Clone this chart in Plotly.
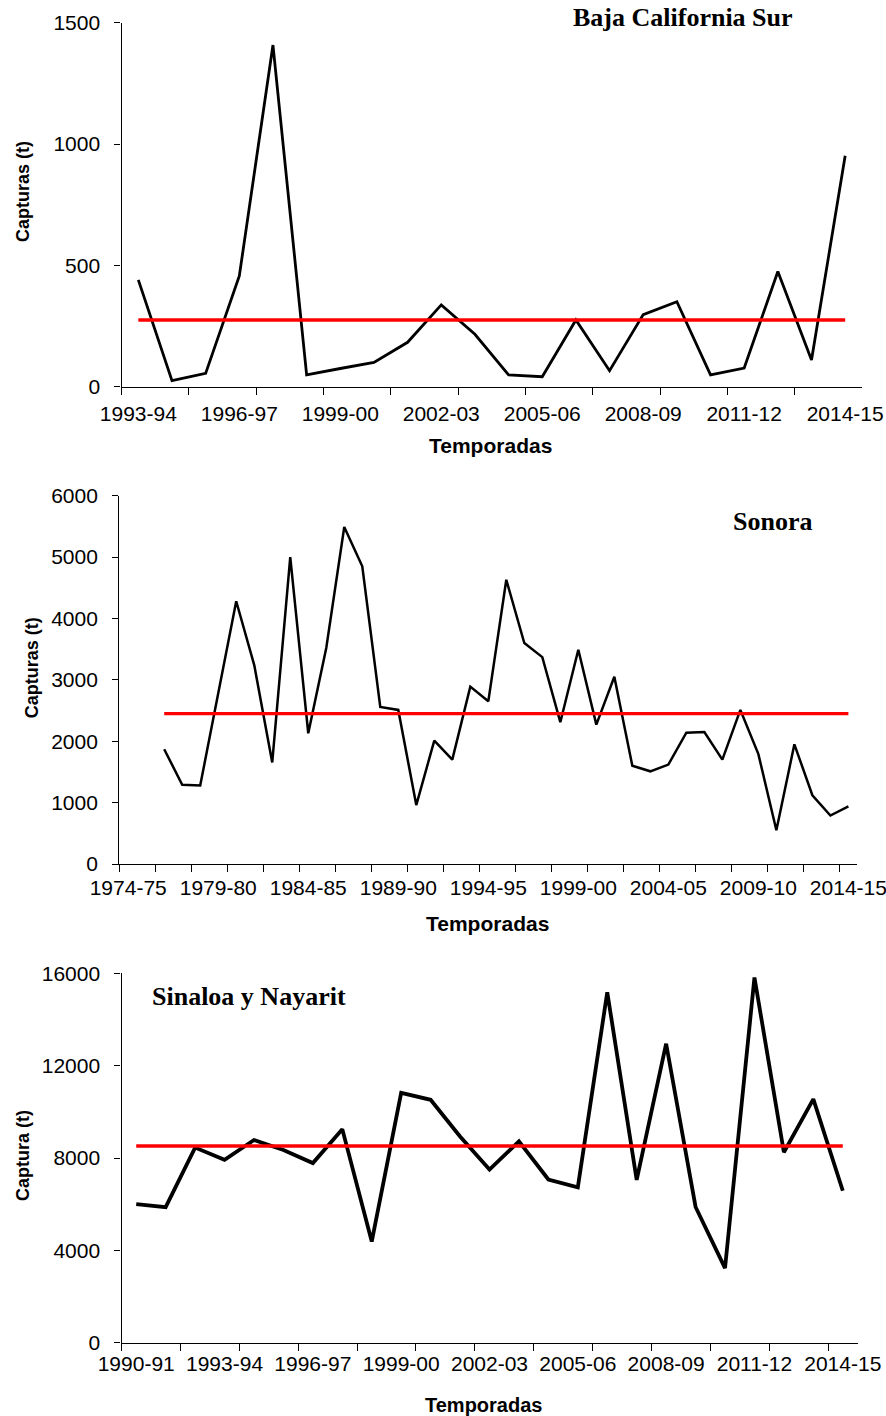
import plotly.graph_objects as go

W, H = 886, 1416

# ---------------- Panel 1: Baja California Sur ----------------
bcs_axis = ["1993-94", "1994-95", "1995-96", "1996-97", "1997-98", "1998-99", "1999-00",
            "2000-01", "2001-02", "2002-03", "2003-04", "2004-05", "2005-06", "2006-07",
            "2007-08", "2008-09", "2009-10", "2010-11", "2011-12", "2012-13", "2013-14",
            "2014-15"]
bcs_seasons = list(bcs_axis)
bcs_catch = [440, 25, 55, 456, 1408, 49, 75, 100, 183, 337, 216, 49, 41, 275, 66, 297,
             350, 49, 77, 475, 110, 952]
bcs_mean = 275
bcs_ticks = ["1993-94", "1996-97", "1999-00", "2002-03", "2005-06", "2008-09", "2011-12", "2014-15"]
bcs_yticks = [0, 500, 1000, 1500]

# ---------------- Panel 2: Sonora ----------------
son_axis = ["1974-75", "1975-76", "1976-77", "1977-78", "1978-79", "1979-80", "1980-81",
            "1981-82", "1982-83", "1983-84", "1984-85", "1985-86", "1986-87", "1987-88",
            "1988-89", "1989-90", "1990-91", "1991-92", "1992-93", "1993-94", "1994-95",
            "1995-96", "1996-97", "1997-98", "1998-99", "1999-00", "2000-01", "2001-02",
            "2002-03", "2003-04", "2004-05", "2005-06", "2006-07", "2007-08", "2008-09",
            "2009-10", "2010-11", "2011-12", "2012-13", "2013-14", "2014-15"]
son_seasons = son_axis[2:]
son_catch = [1870, 1290, 1280, 2780, 4280, 3240, 1655, 5000, 2130, 3520, 5490, 4850, 2560,
             2510, 960, 2010, 1700, 2890, 2650, 4630, 3600, 3370, 2310, 3490, 2270, 3050,
             1600, 1510, 1620, 2140, 2150, 1700, 2510, 1790, 550, 1950, 1120, 790, 940]
son_mean = 2450
son_ticks = ["1974-75", "1979-80", "1984-85", "1989-90", "1994-95", "1999-00", "2004-05",
             "2009-10", "2014-15"]
son_yticks = [0, 1000, 2000, 3000, 4000, 5000, 6000]

# ---------------- Panel 3: Sinaloa y Nayarit ----------------
sin_axis = ["1990-91", "1991-92", "1992-93", "1993-94", "1994-95", "1995-96", "1996-97",
            "1997-98", "1998-99", "1999-00", "2000-01", "2001-02", "2002-03", "2003-04",
            "2004-05", "2005-06", "2006-07", "2007-08", "2008-09", "2009-10", "2010-11",
            "2011-12", "2012-13", "2013-14", "2014-15"]
sin_seasons = list(sin_axis)
sin_catch = [6000, 5870, 8450, 7920, 8780, 8350, 7780, 9250, 4380, 10820, 10520, 8930,
             7500, 8720, 7070, 6730, 15180, 7050, 12950, 5880, 3230, 15820, 8250, 10550, 6580]
sin_mean = 8520
sin_ticks = ["1990-91", "1993-94", "1996-97", "1999-00", "2002-03", "2005-06", "2008-09",
             "2011-12", "2014-15"]
sin_yticks = [0, 4000, 8000, 12000, 16000]

SANS = "Liberation Sans, Arial, sans-serif"
SERIF = "Liberation Serif, Times New Roman, serif"

panels = [
    dict(axis=bcs_axis, seasons=bcs_seasons, catch=bcs_catch, mean=bcs_mean, ticks=bcs_ticks,
         yticks=bcs_yticks, ymax=1500, xdom=(121.5, 862), ydom=(22.7, 386.7), lw=2.8,
         xstand=8,
         title="Baja California Sur", tpos=(571, 17.5), tanchor="left",
         ytitle="Capturas (t)", ytpos=(23, 192), xtpos=(490, 445.7), xtsize=21),
    dict(axis=son_axis, seasons=son_seasons, catch=son_catch, mean=son_mean, ticks=son_ticks,
         yticks=son_yticks, ymax=6000, xdom=(119.2, 857.4), ydom=(495.7, 864), lw=2.5,
         xstand=5,
         title="Sonora", tpos=(731, 521), tanchor="left",
         ytitle="Capturas (t)", ytpos=(31.7, 667.5), xtpos=(487, 923.5), xtsize=21),
    dict(axis=sin_axis, seasons=sin_seasons, catch=sin_catch, mean=sin_mean, ticks=sin_ticks,
         yticks=sin_yticks, ymax=16000, xdom=(121.5, 857.5), ydom=(973.3, 1342.7), lw=3.8,
         xstand=2,
         title="Sinaloa y Nayarit", tpos=(150, 996.5), tanchor="left",
         ytitle="Captura (t)", ytpos=(23, 1156), xtpos=(483, 1405), xtsize=20),
]

fig = go.Figure()
annotations = []
for i, p in enumerate(panels, start=1):
    xa = "x" if i == 1 else f"x{i}"
    ya = "y" if i == 1 else f"y{i}"
    xs = [p["axis"].index(s) for s in p["seasons"]]
    fig.add_trace(go.Scatter(x=xs, y=p["catch"], mode="lines", xaxis=xa, yaxis=ya,
                             line=dict(color="black", width=p["lw"]), showlegend=False,
                             hoverinfo="skip"))
    fig.add_trace(go.Scatter(x=[xs[0], xs[-1]], y=[p["mean"], p["mean"]], mode="lines",
                             xaxis=xa, yaxis=ya, line=dict(color="#ff0000", width=3.4),
                             showlegend=False, hoverinfo="skip"))
    n = len(p["axis"])
    xkey = "xaxis" if i == 1 else f"xaxis{i}"
    ykey = "yaxis" if i == 1 else f"yaxis{i}"
    fig.update_layout(**{
        xkey: dict(domain=[p["xdom"][0] / W, p["xdom"][1] / W], anchor=ya, automargin=False,
                   range=[-0.5, n - 0.5], showgrid=False, zeroline=False,
                   showline=True, linecolor="black", linewidth=1.3,
                   tickmode="array", tickvals=[p["axis"].index(t) for t in p["ticks"]],
                   ticktext=p["ticks"], ticks="", ticklabelstandoff=p["xstand"],
                   ticklabeloverflow="allow",
                   tickfont=dict(family=SANS, size=21, color="black"),
                   minor=dict(tickmode="array", tickvals=[k - 0.5 for k in range(0, n, 2)],
                              ticks="outside", ticklen=7, tickwidth=1.3, tickcolor="black",
                              showgrid=False),
                   fixedrange=True),
        ykey: dict(domain=[1 - p["ydom"][1] / H, 1 - p["ydom"][0] / H], anchor=xa,
                   automargin=False,
                   range=[0, p["ymax"]], showgrid=False, zeroline=False,
                   showline=True, linecolor="black", linewidth=1.3,
                   tickmode="array", tickvals=p["yticks"],
                   ticktext=[str(v) for v in p["yticks"]], ticks="outside", ticklen=6,
                   tickwidth=1.3, tickcolor="black", ticklabelstandoff=10,
                   ticklabeloverflow="allow",
                   tickfont=dict(family=SANS, size=21, color="black"), fixedrange=True),
    })
    annotations.append(dict(text=f"<b>{p['title']}</b>", x=p["tpos"][0] / W,
                            y=1 - p["tpos"][1] / H, xref="paper", yref="paper",
                            xanchor=p["tanchor"], yanchor="middle", showarrow=False,
                            font=dict(family=SERIF, size=26, color="black")))
    annotations.append(dict(text=f"<b>{p['ytitle']}</b>", x=p["ytpos"][0] / W,
                            y=1 - p["ytpos"][1] / H, xref="paper", yref="paper",
                            xanchor="center", yanchor="middle", showarrow=False, textangle=-90,
                            font=dict(family=SANS, size=18, color="black")))
    annotations.append(dict(text="<b>Temporadas</b>", x=p["xtpos"][0] / W,
                            y=1 - p["xtpos"][1] / H, xref="paper", yref="paper",
                            xanchor="center", yanchor="middle", showarrow=False,
                            font=dict(family=SANS, size=p["xtsize"], color="black")))

fig.update_layout(width=W, height=H, margin=dict(l=0, r=0, t=0, b=0),
                  paper_bgcolor="white", plot_bgcolor="white", annotations=annotations)

fig.write_html("out.html", config={"displayModeBar": False},
               post_script="document.body.style.margin='0';document.body.style.overflow='hidden';")
